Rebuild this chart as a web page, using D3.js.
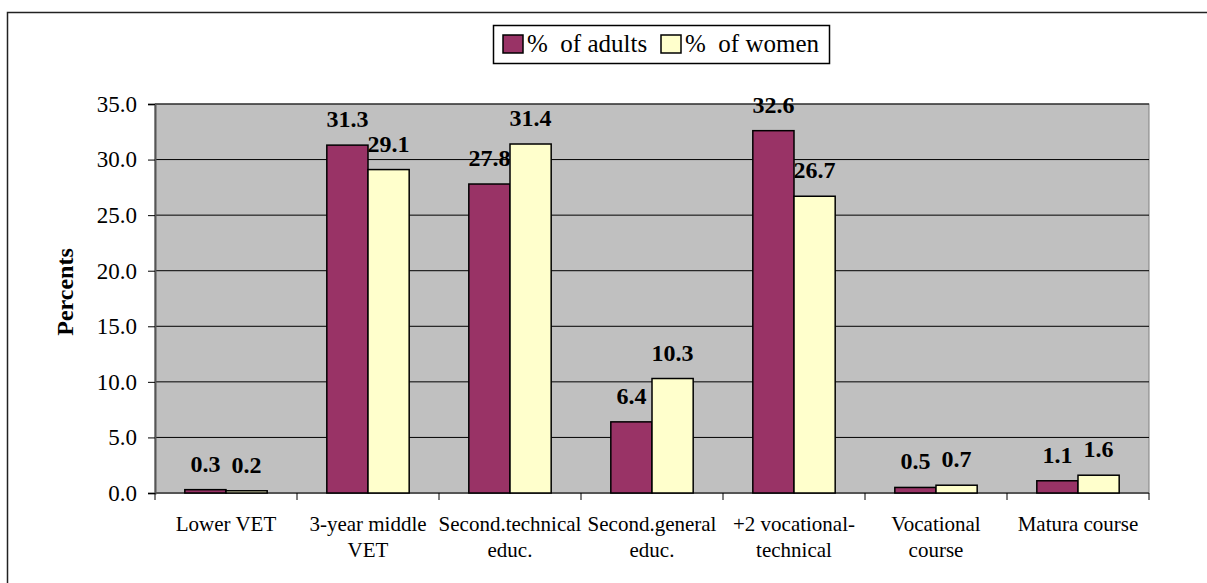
<!DOCTYPE html>
<html>
<head>
<meta charset="utf-8">
<script src="https://cdn.jsdelivr.net/npm/d3@7/dist/d3.min.js"></script>
<style>
  body { margin: 0; background: #fff; }
  svg text { font-family: "Liberation Serif", "DejaVu Serif", serif !important; }
</style>
</head>
<body>
<div id="chart"></div>
<script>
const categories = [
  ["Lower VET"],
  ["3-year middle", "VET"],
  ["Second.technical", "educ."],
  ["Second.general", "educ."],
  ["+2 vocational-", "technical"],
  ["Vocational", "course"],
  ["Matura course"]
];
const adults = [0.3, 31.3, 27.8, 6.4, 32.6, 0.5, 1.1];
const women = [0.2, 29.1, 31.4, 10.3, 26.7, 0.7, 1.6];
const seriesNames = ["%\u00a0 of adults", "%\u00a0 of women"];
const seriesColors = ["#993366", "#FFFFCC"];
const yTicks = [0, 5, 10, 15, 20, 25, 30, 35];

const w = 1207, h = 583;
const plot = { left: 155, right: 1149, top: 104, bottom: 493 };
const serif = "'Liberation Serif', 'Times New Roman', serif";

const svg = d3.select("#chart").append("svg")
  .attr("width", w)
  .attr("height", h);

// outer frame (runs off the right / bottom edge like the original)
svg.append("rect")
  .attr("x", 7.5).attr("y", 12.5)
  .attr("width", 1220).attr("height", 600)
  .attr("fill", "none")
  .attr("stroke", "#222")
  .attr("stroke-width", 1.5);

const xScale = d3.scaleBand()
  .domain(d3.range(categories.length))
  .range([plot.left, plot.right])
  .paddingInner(0.42)
  .paddingOuter(0.21);

const inner = d3.scaleBand()
  .domain([0, 1])
  .range([0, xScale.bandwidth()]);

const yScale = d3.scaleLinear()
  .domain([0, 35])
  .range([plot.bottom, plot.top]);

// plot background
svg.append("rect")
  .attr("x", plot.left).attr("y", plot.top)
  .attr("width", plot.right - plot.left)
  .attr("height", plot.bottom - plot.top)
  .attr("fill", "#C0C0C0")
  .attr("stroke", "#808080")
  .attr("stroke-width", 1);

// gridlines
svg.append("g")
  .selectAll("line")
  .data(yTicks.filter(d => d > 0))
  .enter()
  .append("line")
  .attr("x1", plot.left).attr("x2", plot.right)
  .attr("y1", d => yScale(d)).attr("y2", d => yScale(d))
  .attr("stroke", "#000")
  .attr("stroke-width", 1);

// y axis
const yAxis = d3.axisLeft(yScale)
  .tickValues(yTicks)
  .tickFormat(d3.format(".1f"))
  .tickSize(7)
  .tickPadding(11);

const gy = svg.append("g")
  .attr("transform", `translate(${plot.left}, 0)`)
  .call(yAxis)
  .attr("font-family", serif);
gy.select(".domain").attr("stroke", "#555").attr("stroke-width", 2);
gy.selectAll(".tick line").attr("stroke", "#000");
gy.selectAll(".tick text")
  .style("font-family", serif)
  .style("font-size", "23px")
  .attr("fill", "#000");

// x axis: ticks between categories
const boundaries = d3.range(categories.length + 1).map(i => plot.left + i * (plot.right - plot.left) / categories.length);
svg.append("line")
  .attr("x1", plot.left).attr("x2", plot.right)
  .attr("y1", plot.bottom).attr("y2", plot.bottom)
  .attr("stroke", "#555").attr("stroke-width", 2);
svg.append("g")
  .selectAll("line")
  .data(boundaries)
  .enter()
  .append("line")
  .attr("x1", d => d).attr("x2", d => d)
  .attr("y1", plot.bottom).attr("y2", plot.bottom + 7)
  .attr("stroke", "#000");

// category labels
const catG = svg.append("g")
  .selectAll("text")
  .data(categories)
  .enter()
  .append("text")
  .attr("text-anchor", "middle")
  .style("font-family", serif)
  .style("font-size", "21px")
  .attr("fill", "#000")
  .attr("x", (d, i) => xScale(i) + xScale.bandwidth() / 2)
  .attr("y", 531);
catG.selectAll("tspan")
  .data(d => d)
  .enter()
  .append("tspan")
  .attr("x", function () { return d3.select(this.parentNode).attr("x"); })
  .attr("dy", (d, i) => i === 0 ? 0 : 26)
  .text(d => d);

// bars
const series = [adults, women];
series.forEach((vals, s) => {
  svg.append("g")
    .selectAll("rect")
    .data(vals)
    .enter()
    .append("rect")
    .attr("x", (d, i) => xScale(i) + inner(s))
    .attr("y", d => yScale(d))
    .attr("width", inner.bandwidth())
    .attr("height", d => yScale(0) - yScale(d))
    .attr("fill", seriesColors[s])
    .attr("stroke", "#000")
    .attr("stroke-width", 1.5);

  svg.append("g")
    .selectAll("text")
    .data(vals)
    .enter()
    .append("text")
    .attr("x", (d, i) => xScale(i) + inner(s) + inner.bandwidth() / 2)
    .attr("y", d => yScale(d) - 18)
    .attr("text-anchor", "middle")
    .style("font-family", serif)
    .style("font-size", "24px")
    .style("font-weight", "bold")
    .attr("fill", "#000")
    .text(d => d.toFixed(1));
});

// y title
svg.append("text")
  .attr("transform", "translate(73, 292) rotate(-90)")
  .attr("text-anchor", "middle")
  .style("font-family", serif)
  .style("font-size", "24px")
  .style("font-weight", "bold")
  .text("Percents");

// legend
const legend = svg.append("g").attr("id", "legend");
legend.append("rect")
  .attr("x", 493.5).attr("y", 25.5)
  .attr("width", 336).attr("height", 38)
  .attr("fill", "#fff")
  .attr("stroke", "#000")
  .attr("stroke-width", 1.5);
const legX = [503, 661];
seriesNames.forEach((name, i) => {
  legend.append("rect")
    .attr("x", legX[i]).attr("y", 35)
    .attr("width", 20).attr("height", 18)
    .attr("fill", seriesColors[i])
    .attr("stroke", "#000")
    .attr("stroke-width", 1.5);
  legend.append("text")
    .attr("x", legX[i] + 24)
    .attr("y", 52)
    .style("font-family", serif)
    .style("font-size", "25px")
    .text(name);
});
</script>
</body>
</html>
